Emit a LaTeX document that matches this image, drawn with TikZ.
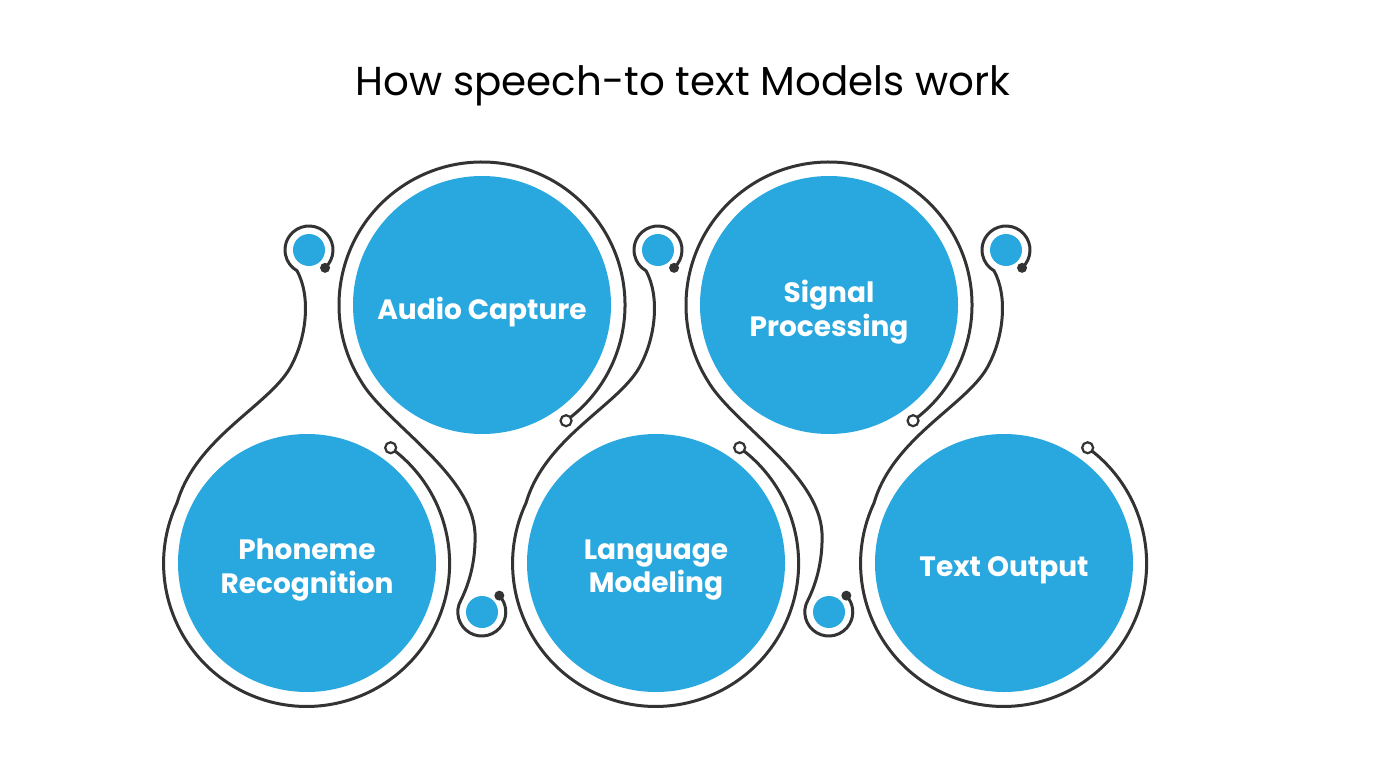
\documentclass[tikz,border=0pt]{standalone}
\usepackage{fontspec}
\setmainfont{Poppins}
\definecolor{bl}{HTML}{29A8E0}
\newcommand\lowunit[3]{%
 \begin{scope}[shift={(#1,0)}]
  \fill[bl] (307,205) circle[radius=129];
  \fill[bl] (309,518) circle[radius=16];
  \draw[ln] (309,518) ++(-48:24) coordinate (s#2) arc[start angle=-48,end angle=240,radius=24]
     .. controls (311,472) and (307,430) .. (290,400)
     .. controls (268,362) and (196,330) .. (177,265)
     arc[start angle=155,end angle=414,radius=143] coordinate (e#2);
  \node[enddot] (d#2) at (s#2) {};
  \node[endring] (m#2) at (e#2) {};
  \node[lbl] (t#2) at (307,198) {#3};
 \end{scope}}
\newcommand\upunit[3]{%
 \begin{scope}[shift={(#1,0)}]
  \fill[bl] (482,463) circle[radius=129];
  \fill[bl] (482,156) circle[radius=16];
  \draw[ln] (482,463) ++(-54:143) coordinate (s#2) arc[start angle=-54,end angle=212,radius=143]
     .. controls (385,345) and (472,295) .. (475,235)
     .. controls (476,205) and (468,182) .. (461,168)
     arc[start angle=150,end angle=403,radius=24] coordinate (e#2);
  \node[endring] (m#2) at (s#2) {};
  \node[enddot] (d#2) at (e#2) {};
  \node[lbl] (t#2) at (482,456) {#3};
 \end{scope}}
\begin{document}
\begin{tikzpicture}[x=0.5pt,y=0.5pt,
  ln/.style={draw=black!80,line width=1.5pt},
  lbl/.style={text=white,font=\bfseries\fontsize{14}{16.8}\selectfont,align=center},
  enddot/.style={circle,fill=black!80,inner sep=0pt,minimum size=5pt},
  endring/.style={circle,draw=black!80,fill=white,line width=1.1pt,inner sep=0pt,minimum size=5.5pt}]
\useasboundingbox (0,0) rectangle (1376,768);
\node (title) at (683,682) {\fontsize{20.2}{24}\selectfont How speech-to text Models work};
\lowunit{0}{a}{Phoneme\\Recognition}
\lowunit{349}{b}{Language\\Modeling}
\lowunit{697}{c}{Text Output}
\upunit{0}{d}{Audio Capture}
\upunit{347}{e}{Signal\\Processing}
\end{tikzpicture}
\end{document}
